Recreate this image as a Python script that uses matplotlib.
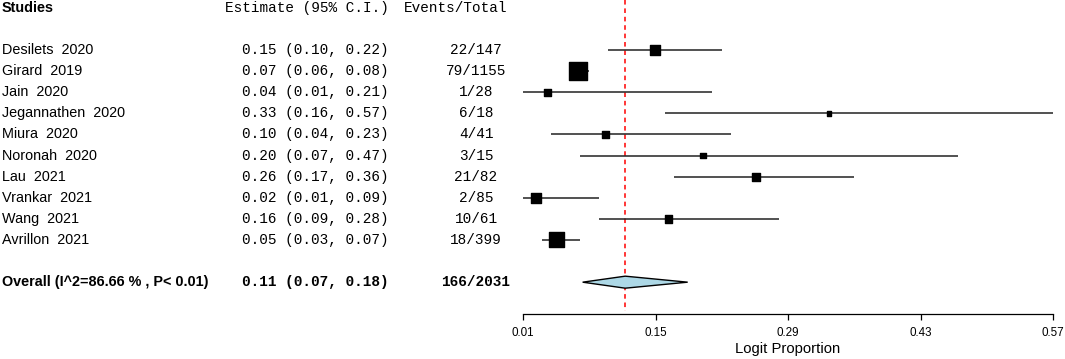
import matplotlib
matplotlib.use("Agg")
import matplotlib.pyplot as plt

# study data
studies = ["Desilets  2020", "Girard  2019", "Jain  2020", "Jegannathen  2020",
           "Miura  2020", "Noronah  2020", "Lau  2021", "Vrankar  2021",
           "Wang  2021", "Avrillon  2021"]
events = [22, 79, 1, 6, 4, 3, 21, 2, 10, 18]
totals = [147, 1155, 28, 18, 41, 15, 82, 85, 61, 399]
lo = [0.10, 0.06, 0.01, 0.16, 0.04, 0.07, 0.17, 0.01, 0.09, 0.03]
hi = [0.22, 0.08, 0.21, 0.57, 0.23, 0.47, 0.36, 0.09, 0.28, 0.07]
weights = [9.8, 31.7, 4.8, 2.4, 4.8, 2.9, 6.3, 9.8, 5.5, 22.0]  # % (box area)

# proportion per study = events / total
est = [e / n for e, n in zip(events, totals)]

# pooled estimate (diamond as drawn, and as printed)
pooled_est, pooled_lo, pooled_hi = 0.118, 0.073, 0.184
pooled_text = "0.11 (0.07, 0.18)"
i2 = 86.66
p_text = "P< 0.01"

xticks = [0.01, 0.15, 0.29, 0.43, 0.57]

W, H = 1065, 359
fig = plt.figure(figsize=(W / 100, H / 100), dpi=100)

# rows: header 0, studies 2..11, overall 13
ylim = (16.64, -0.37)
rows = list(range(2, 2 + len(studies)))
overall_row = rows[-1] + 2
axis_row = 14.51

sans = "Liberation Sans"
mono = "Liberation Mono"
fs = 10.4

# text columns
tx = fig.add_axes([0, 0, 1, 1])
tx.set_xlim(0, W)
tx.set_ylim(*ylim)
tx.axis("off")

tx.text(2, 0, "Studies", family=sans, weight="bold", fontsize=fs, va="center")
tx.text(389, 0, "Estimate (95% C.I.)", family=mono, fontsize=fs, va="center", ha="right")
tx.text(456, 0, "Events/Total", family=mono, fontsize=fs, va="center", ha="center")

for r, s, e, l, h, ev, n in zip(rows, studies, est, lo, hi, events, totals):
    tx.text(2, r, s, family=sans, fontsize=fs, va="center")
    tx.text(389, r, f"{e:.2f} ({l:.2f}, {h:.2f})", family=mono, fontsize=fs,
            va="center", ha="right")
    tx.text(476, r, f"{ev}/{n}", family=mono, fontsize=fs, va="center", ha="center")

tx.text(2, overall_row, f"Overall (I^2={i2:.2f} % , {p_text})", family=sans,
        weight="bold", fontsize=fs, va="center")
tx.text(389, overall_row, pooled_text, family=mono, weight="bold", fontsize=fs,
        va="center", ha="right")
tx.text(476, overall_row, f"{sum(events)}/{sum(totals)}", family=mono, weight="bold",
        fontsize=fs, va="center", ha="center")

# forest panel
ax = fig.add_axes([523 / W, 0, 530 / W, 1])
ax.set_facecolor("none")
ax.set_xlim(xticks[0], xticks[-1])
ax.set_ylim(*ylim)

ax.vlines(pooled_est, ylim[1], axis_row - 0.15, colors="red", linestyles=(0, (3, 2.5)),
          lw=1.1, zorder=1)
ax.hlines(rows, lo, hi, colors="#222222", lw=1.1, zorder=2, clip_on=False)
ax.scatter(est, rows, marker="s", s=[5.3 * w for w in weights], color="black",
           zorder=3, clip_on=False)

dh = 0.285
ax.fill([pooled_lo, pooled_est, pooled_hi, pooled_est],
        [overall_row, overall_row - dh, overall_row, overall_row + dh],
        facecolor="lightblue", edgecolor="black", lw=1.0, zorder=3)

for side in ["top", "left", "right"]:
    ax.spines[side].set_visible(False)
ax.spines["bottom"].set_position(("data", axis_row))
ax.spines["bottom"].set_bounds(xticks[0], xticks[-1])
ax.spines["bottom"].set_linewidth(0.9)
ax.set_yticks([])
ax.set_xticks(xticks)
ax.set_xticklabels([f"{t:.2f}" for t in xticks], family=sans)
ax.tick_params(axis="x", direction="out", length=4.2, width=0.9, labelsize=8.4, pad=5)
ax.set_xlabel("Logit Proportion", family=sans, fontsize=10.7, labelpad=2.5)

fig.savefig("out.png", dpi=100)
